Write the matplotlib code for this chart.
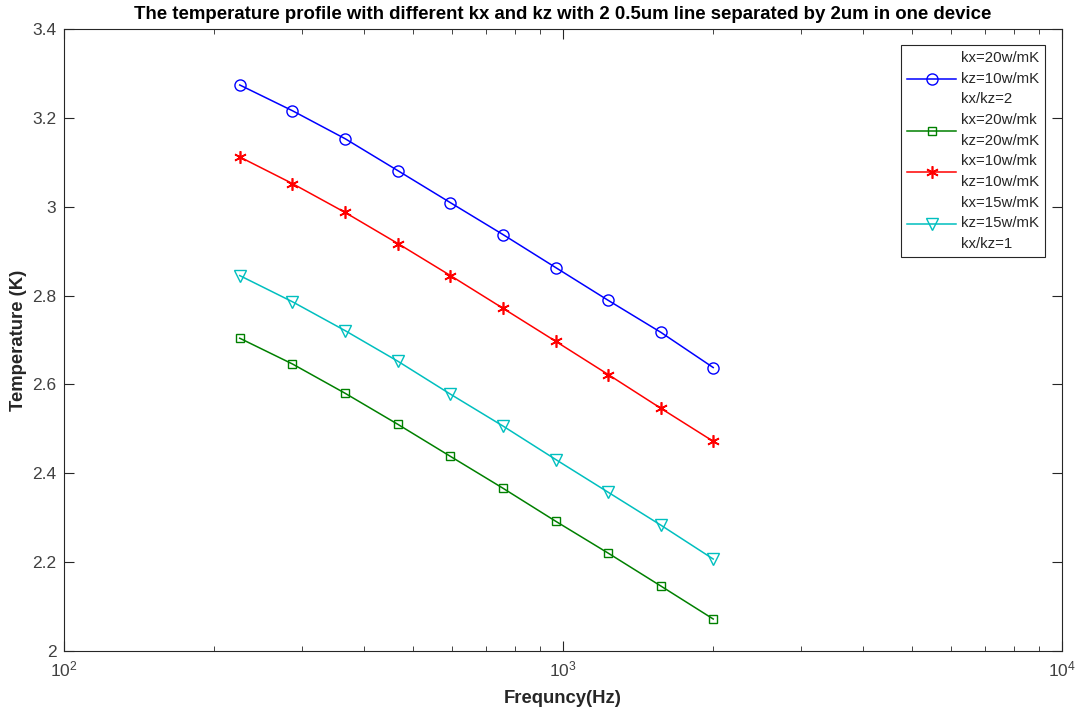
import numpy as np
import matplotlib.pyplot as plt
from matplotlib.ticker import LogLocator, NullFormatter

plt.rcParams['font.family'] = ['Liberation Sans', 'DejaVu Sans']

freq = [225, 287, 366, 467, 595, 759, 967, 1233, 1572, 2000]

t_20_10 = [3.274, 3.216, 3.153, 3.081, 3.009, 2.937, 2.863, 2.789, 2.717, 2.638]
t_20_20 = [2.704, 2.646, 2.580, 2.510, 2.438, 2.366, 2.292, 2.220, 2.146, 2.072]
t_10_10 = [3.112, 3.052, 2.987, 2.917, 2.845, 2.771, 2.697, 2.622, 2.546, 2.472]
t_15_15 = [2.845, 2.786, 2.721, 2.652, 2.578, 2.506, 2.431, 2.357, 2.283, 2.207]

labels = ['kx=20w/mK\nkz=10w/mK\nkx/kz=2',
          'kx=20w/mk\nkz=20w/mK',
          'kx=10w/mk\nkz=10w/mK',
          'kx=15w/mK\nkz=15w/mK\nkx/kz=1']

fig = plt.figure(figsize=(10.79, 7.13), dpi=100)
ax = fig.add_axes([64/1079, 1-651/713, (1062-64)/1079, (651-29)/713])

ax.plot(freq, t_20_10, color='#0000ff', marker='o', mfc='none', ms=8, lw=1.1, label=labels[0])
ax.plot(freq, t_20_20, color='#008000', marker='s', mfc='none', ms=6, lw=1.1, label=labels[1])
ax.plot(freq, t_10_10, color='#ff0000', marker=(6, 2, 0), ms=9, lw=1.1, mew=1.2, label=labels[2])
ax.plot(freq, t_15_15, color='#00bfbf', marker='v', mfc='none', ms=8, lw=1.1, label=labels[3])

ax.set_xscale('log')
ax.set_xlim(100, 10000)
ax.set_ylim(2, 3.4)
ax.set_yticks(np.arange(2, 3.41, 0.2))
ax.set_yticklabels(['2', '2.2', '2.4', '2.6', '2.8', '3', '3.2', '3.4'])
ax.xaxis.set_minor_locator(LogLocator(base=10, subs=np.arange(2, 10)))
ax.xaxis.set_minor_formatter(NullFormatter())

ax.tick_params(which='both', direction='in', top=True, right=True,
               labelsize=12.5, labelcolor='#404040', color='#262626')
ax.tick_params(which='major', length=7)
ax.tick_params(which='minor', length=3.6)
ax.tick_params(axis='y', pad=5.5)
ax.tick_params(axis='x', pad=6)
for s in ax.spines.values():
    s.set_color('#262626')
    s.set_linewidth(0.8)

ax.set_xlabel('Frequncy(Hz)', fontsize=13.3, fontweight='bold', color='#262626', labelpad=8)
ax.set_ylabel('Temperature (K)', fontsize=13.3, fontweight='bold', color='#262626', labelpad=4)
ax.set_title('The temperature profile with different kx and kz with 2 0.5um line separated by 2um in one device',
             fontsize=13.4, fontweight='bold', color='#000000', pad=7)

leg = ax.legend(loc='upper right', bbox_to_anchor=(0.983, 0.974), fontsize=10.8,
                fancybox=False, edgecolor='#262626', framealpha=1,
                handlelength=3.3, handletextpad=0.3, labelspacing=0.45, borderpad=0.4,
                borderaxespad=0)
leg.get_frame().set_linewidth(0.8)
for t in leg.get_texts():
    t.set_color('#262626')
    t.set_linespacing(1.6)

fig.savefig('out.png', dpi=100)
